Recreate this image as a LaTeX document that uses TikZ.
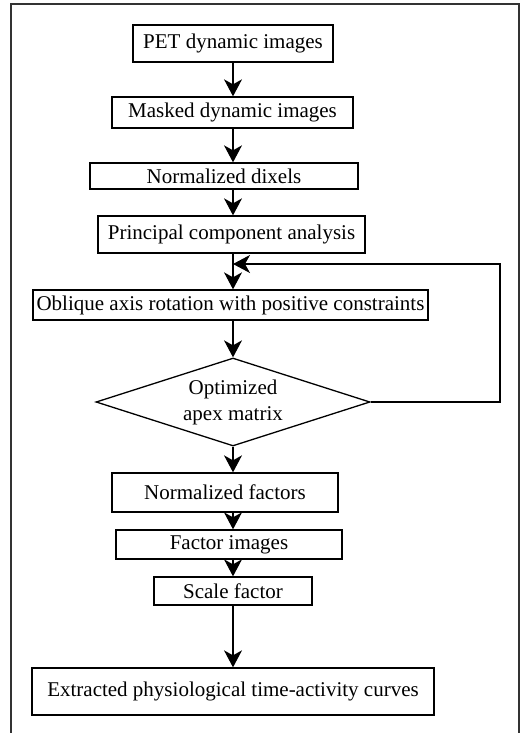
\documentclass[tikz,border=0pt]{standalone}
\usepackage{fontspec}
\setmainfont{Liberation Serif}
\usetikzlibrary{shapes.geometric,arrows.meta}
\begin{document}
\begin{tikzpicture}[x=1pt,y=-1pt,
  box/.style={draw,line width=1.3pt,inner sep=0pt,font=\fontsize{21}{25}\selectfont},
  dia/.style={draw,diamond,line width=1.3pt,inner sep=0pt,aspect=3.1,align=center,font=\fontsize{21}{26}\selectfont},
  arr/.style={line width=1.3pt,-{Stealth[length=17pt,width=18pt,inset=5pt]}},
  frame/.style={line width=1.4pt,black!80}]
\useasboundingbox (0,0) rectangle (527,733);
\draw[frame] (11,733) -- (11,4) -- (519,4) -- (519,733);
\coordinate (ax) at (233,0);
\node[box,minimum width=200pt,minimum height=37pt] (pet) at (233,43.5) {PET dynamic images};
\node[box,minimum width=241pt,minimum height=31pt] (mask) at (232.5,112.5) {Masked dynamic images};
\node[box,minimum width=268pt,minimum height=26pt] (dix) at (224,176) {Normalized dixels};
\node[box,minimum width=267pt,minimum height=37pt] (pca) at (231.5,234.5) {Principal component analysis};
\node[box,minimum width=395pt,minimum height=30pt] (obl) at (230.5,305) {Oblique axis rotation with positive constraints};
\node[dia,minimum width=274pt,minimum height=88pt] (opt) at (233,402) {Optimized\\apex matrix};
\node[box,minimum width=226pt,minimum height=39pt] (nf) at (225,492.5) {Normalized factors};
\node[box,minimum width=226pt,minimum height=29pt] (fi) at (229,544.5) {Factor images};
\node[box,minimum width=158pt,minimum height=28pt] (sf) at (233,591) {Scale factor};
\node[box,minimum width=402pt,minimum height=47pt] (ext) at (233,691.5) {Extracted physiological time-activity curves};
\coordinate (j) at (233,264);
\draw[arr] (pet.south -| ax) -- (mask.north -| ax);
\draw[arr] (mask.south -| ax) -- (dix.north -| ax);
\draw[arr] (dix.south -| ax) -- (pca.north -| ax);
\draw[arr] (pca.south -| ax) -- (obl.north -| ax);
\draw[arr] (obl.south -| ax) -- (opt.north);
\draw[arr] (opt.south) -- (nf.north -| ax);
\draw[arr] (nf.south -| ax) -- (fi.north -| ax);
\draw[arr] (fi.south -| ax) -- (sf.north -| ax);
\draw[arr] (sf.south -| ax) -- (ext.north -| ax);
\draw[arr] (opt.east) -- (500,402) -- (500,264) -- (j);
\end{tikzpicture}
\end{document}
